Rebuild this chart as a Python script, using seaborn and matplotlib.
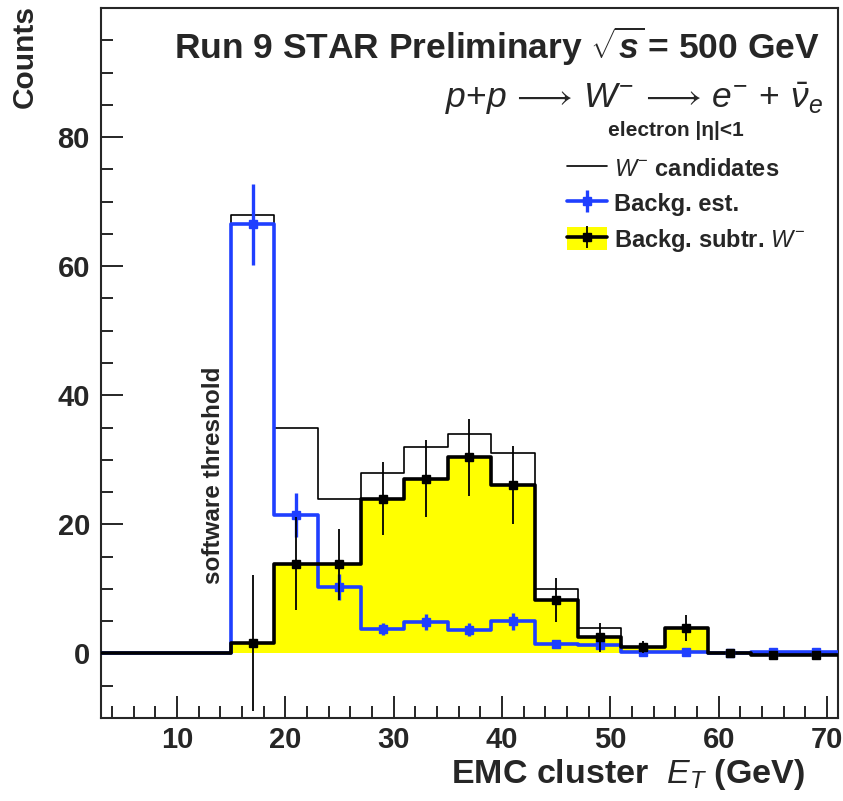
import numpy as np
import matplotlib
matplotlib.use("Agg")
import matplotlib.pyplot as plt
import seaborn as sns
from matplotlib.lines import Line2D
from matplotlib.patches import Patch
from matplotlib.legend_handler import HandlerTuple
from matplotlib.ticker import MultipleLocator

# ---- data: EMC cluster E_T histograms (4 GeV bins) ----
bin_edges = [3, 7, 11, 15, 19, 23, 27, 31, 35, 39, 43, 47, 51, 55, 59, 63, 67, 71]
bin_centers = [5, 9, 13, 17, 21, 25, 29, 33, 37, 41, 45, 49, 53, 57, 61, 65, 69]

candidates = [0, 0, 0, 68, 35, 24, 28, 32, 34, 31, 10, 4, 1, 4, 0, 0, 0]
backg_est = [0, 0, 0, 66.5, 21.4, 10.3, 3.8, 4.9, 3.7, 5.0, 1.5, 1.3, 0.3, 0.3, 0.0, 0.3, 0.3]
backg_err = [0, 0, 0, 6.3, 3.4, 2.0, 0.9, 1.2, 1.0, 1.3, 0.6, 0.6, 0.4, 0.3, 0.0, 0.3, 0.3]
signal = [0, 0, 0, 1.6, 13.9, 13.8, 24.0, 27.1, 30.4, 26.1, 8.3, 2.5, 1.0, 3.9, 0.0, -0.2, -0.2]
signal_err = [0, 0, 0, 10.5, 7.2, 5.5, 5.6, 5.9, 6.0, 6.0, 3.4, 2.2, 1.0, 2.0, 0.3, 0.3, 0.3]

threshold = 15  # software threshold in GeV

x_ticks = [10, 20, 30, 40, 50, 60, 70]
y_ticks = [0, 20, 40, 60, 80]

BLUE = "#1f3fff"
YELLOW = "#ffff00"

sns.set_style("ticks")
plt.rcParams["font.family"] = ["Liberation Sans", "DejaVu Sans"]
plt.rcParams["mathtext.fontset"] = "custom"
plt.rcParams["mathtext.rm"] = "Liberation Sans"
plt.rcParams["mathtext.it"] = "Liberation Sans:italic"
plt.rcParams["mathtext.bf"] = "Liberation Sans:bold"
plt.rcParams["mathtext.bfit"] = "Liberation Sans:italic:bold"
plt.rcParams["mathtext.sf"] = "Liberation Sans"

W, H = 843, 801
fig = plt.figure(figsize=(W / 100, H / 100), dpi=100)
ax = fig.add_axes([101 / W, 1 - 718 / H, 737 / W, 710 / H])

# yellow fill of background-subtracted spectrum
sns.histplot(x=bin_centers, weights=signal, bins=bin_edges, element="step",
             fill=True, color=YELLOW, alpha=1, linewidth=0, edgecolor="none",
             stat="count", ax=ax, zorder=1)
# raw W- candidates (thin black)
sns.histplot(x=bin_centers, weights=candidates, bins=bin_edges, element="step",
             fill=False, color="black", linewidth=1.2, stat="count", ax=ax, zorder=2)
# background estimate (blue)
sns.histplot(x=bin_centers, weights=backg_est, bins=bin_edges, element="step",
             fill=False, color=BLUE, linewidth=2.6, stat="count", ax=ax, zorder=3)
# background-subtracted outline (thick black)
sns.histplot(x=bin_centers, weights=signal, bins=bin_edges, element="step",
             fill=False, color="black", linewidth=2.6, stat="count", ax=ax, zorder=4)

xc = np.array(bin_centers, dtype=float)
above = xc > threshold
ax.errorbar(xc[above], np.array(backg_est)[above], yerr=np.array(backg_err)[above],
            fmt="s", color=BLUE, ms=6, elinewidth=2.4, capsize=0, zorder=5)
ax.errorbar(xc[above], np.array(signal)[above], yerr=np.array(signal_err)[above],
            fmt="s", color="black", ms=6, elinewidth=1.3, capsize=0, zorder=6)

ax.set_xlim(3, 71)
ax.set_ylim(-10, 100)
ax.set_xticks(x_ticks)
ax.set_yticks(y_ticks)
ax.xaxis.set_minor_locator(MultipleLocator(2))
ax.yaxis.set_minor_locator(MultipleLocator(5))
ax.tick_params(which="major", direction="in", length=16, width=1.4,
               labelsize=21, top=False, right=False)
ax.tick_params(axis="x", which="major", pad=6)
ax.tick_params(axis="y", which="major", pad=8)
ax.tick_params(which="minor", direction="in", length=8.5, width=1.4,
               top=False, right=False)
for lab in ax.get_xticklabels() + ax.get_yticklabels():
    lab.set_fontweight("bold")
for sp in ax.spines.values():
    sp.set_linewidth(1.5)
    sp.set_visible(True)
ax.set_xlabel("")
ax.set_ylabel("")

# axis titles
fig.text(805 / W, 1 - 775 / H, r"EMC cluster  $E_T$ (GeV)", ha="right", va="center",
         fontsize=24.5, fontweight="bold")
fig.text(25 / W, 1 - 5 / H, "Counts", rotation=90, ha="center", va="top",
         fontsize=21.5, fontweight="bold")

# header texts
fig.text(820 / W, 1 - 59 / H,
         r"Run 9 STAR Preliminary $\sqrt{\mathbfit{s}}\,$= 500 GeV",
         ha="right", va="baseline", fontsize=25.5, fontweight="bold")
fig.text(823 / W, 1 - 108 / H,
         r"$p{+}p \,\longrightarrow\, W^{-} \,\longrightarrow\, e^{-} \,+\, \bar{\nu}_{e}$",
         ha="right", va="baseline", fontsize=25.5)
fig.text(676 / W, 1 - 131 / H, "electron |η|<1", ha="center", va="center",
         fontsize=15, fontweight="bold")
fig.text(213 / W, 1 - 475 / H, "software threshold", rotation=90,
         ha="center", va="center", fontsize=17.5, fontweight="bold")

# legend
h_cand = Line2D([], [], color="black", lw=1.2)
h_bkg = (Line2D([], [], color=BLUE, lw=2.6, marker="s", ms=6),
         Line2D([], [], color=BLUE, ls="none", marker="|", ms=16, mew=2.4))
h_sig = (Patch(facecolor=YELLOW, edgecolor="none"),
         Line2D([], [], color="black", lw=2.6, marker="s", ms=6),
         Line2D([], [], color="black", ls="none", marker="|", ms=16, mew=1.3))
leg = ax.legend([h_cand, h_bkg, h_sig],
                [r"$W^{-}$ candidates", "Backg. est.", r"Backg. subtr. $W^{-}$"],
                handler_map={tuple: HandlerTuple(ndivide=1, pad=0)},
                loc="upper left", bbox_to_anchor=((567 - 101) / 737, (718 - 156) / 710),
                frameon=False, borderpad=0, borderaxespad=0,
                handlelength=1.7, handleheight=1.15, handletextpad=0.3,
                labelspacing=0.45, prop={"family": "Liberation Sans", "weight": "bold", "size": 17})

fig.savefig("out.png", dpi=100)
